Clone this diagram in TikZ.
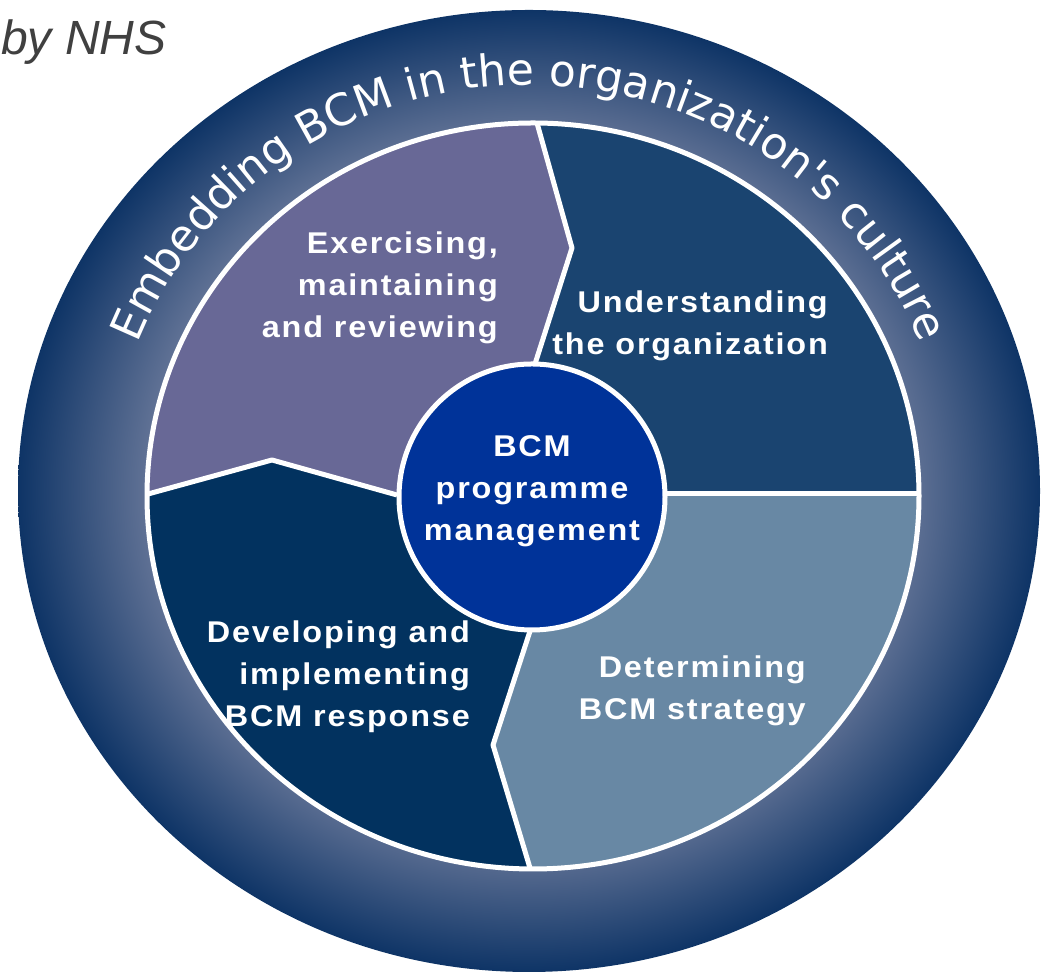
\documentclass[tikz,border=0pt]{standalone}
\usepackage{fontspec}
\setmainfont{Liberation Sans}
\newfontfamily\sectorfont{Liberation Sans}[FakeStretch=1.08,LetterSpace=6]
\newfontfamily\ringfont{DejaVu Sans}
\usetikzlibrary{decorations.text}

\definecolor{ringDark}{HTML}{0E3466}
\definecolor{ringLight}{HTML}{627396}
\definecolor{sectPurple}{HTML}{686896}
\definecolor{sectUpper}{HTML}{1A4470}
\definecolor{sectSteel}{HTML}{6888A4}
\definecolor{sectNavy}{HTML}{02325F}
\definecolor{hubBlue}{HTML}{003399}
\definecolor{creditGray}{HTML}{404040}
\pgfdeclareradialshading{ringshade}{\pgfpoint{0bp}{0bp}}{color(0bp)=(ringLight); color(18.6bp)=(ringLight); color(25bp)=(ringDark); color(50bp)=(ringDark)}

\tikzset{
  sector label/.style={text=white, font=\sectorfont\bfseries\fontsize{30}{42}\selectfont, align=right, inner sep=0pt, anchor=east},
  divider/.style={draw=white, line width=5pt, line join=round},
  hub/.style={circle, fill=hubBlue, draw=white, line width=5pt, minimum size=266pt, inner sep=0pt},
}

\begin{document}
\begin{tikzpicture}[x=1pt,y=1pt]
  \useasboundingbox (0,0) rectangle (1045,976);
  % outer ring
  \shade[shading=ringshade] (529,485) ellipse[x radius=511, y radius=481];

  \coordinate (hubc) at (532,479);
  \coordinate (t1) at (535,612); \coordinate (t2) at (572,728);
  \coordinate (t3) at (537,853); \coordinate (t4) at (503,976);
  \coordinate (r1) at (667,482); \coordinate (r2) at (1045,482);
  \coordinate (b1) at (532,351); \coordinate (b2) at (493,231);
  \coordinate (b3) at (530,108); \coordinate (b4) at (562,0);
  \coordinate (l1) at (397,481); \coordinate (l2) at (272,516);
  \coordinate (l3) at (148,482); \coordinate (l4) at (60,456);

  % the four sectors
  \begin{scope}
    \clip (533,480) ellipse[x radius=386, y radius=373];
    \fill[sectPurple] (hubc) -- (l1) -- (l2) -- (l3) -- (l4) -- (0,976) -- (t4) -- (t3) -- (t2) -- (t1) -- cycle;
    \fill[sectUpper] (hubc) -- (t1) -- (t2) -- (t3) -- (t4) -- (1045,976) -- (r2) -- (r1) -- cycle;
    \fill[sectSteel] (hubc) -- (r1) -- (r2) -- (1045,0) -- (b4) -- (b3) -- (b2) -- (b1) -- cycle;
    \fill[sectNavy] (hubc) -- (b1) -- (b2) -- (b3) -- (b4) -- (0,0) -- (l4) -- (l3) -- (l2) -- (l1) -- cycle;
    \draw[divider] (t1) -- (t2) -- (t3) -- (t4);
    \draw[divider] (r1) -- (r2);
    \draw[divider] (b1) -- (b2) -- (b3) -- (b4);
    \draw[divider] (l1) -- (l2) -- (l3) -- (l4);
  \end{scope}
  \draw[white, line width=5pt] (533,480) ellipse[x radius=386, y radius=373];

  \node[hub] (hub) at (hubc) {};
  \node[sector label, anchor=center, align=center] (hubtext) at (532,485) {BCM\\programme\\management};

  \node[sector label] (exercise) at (498,688) {Exercising,\\maintaining\\and reviewing};
  \node[sector label] (understand) at (828,650) {Understanding\\the organization};
  \node[sector label] (develop) at (470,299) {Developing and\\implementing\\BCM response};
  \node[sector label] (determine) at (806,285) {Determining\\BCM strategy};

  % ring caption
  \path[decorate, decoration={text along path, text align=center, text color=white,
      text={|\ringfont\fontsize{44}{44}\selectfont|Embedding BCM in the organization's culture}}]
    (529,485) ++(158:420 and 406) arc[start angle=158, end angle=22, x radius=420, y radius=406];

  \node[anchor=base west, text=creditGray, font=\itshape\fontsize{48}{48}\selectfont, inner sep=0pt] (credit) at (1,921) {by NHS};
\end{tikzpicture}
\end{document}
